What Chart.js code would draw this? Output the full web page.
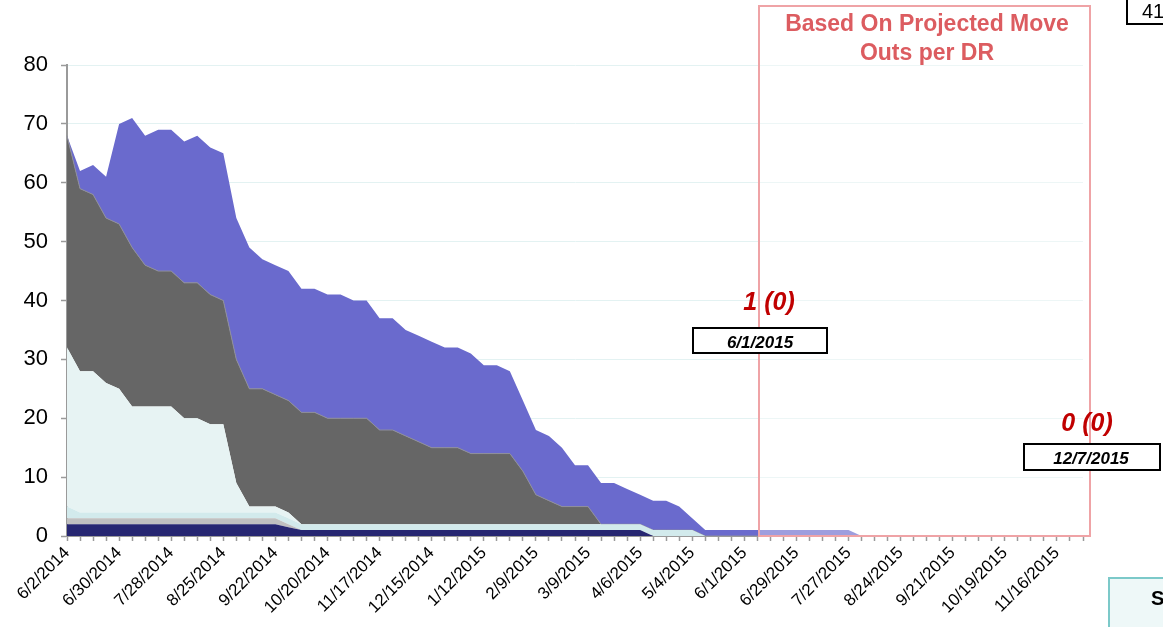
<!DOCTYPE html>
<html>
<head>
<meta charset="utf-8">
<script src="https://cdn.jsdelivr.net/npm/chart.js@4/dist/chart.umd.min.js"></script>
<style>
  html, body { margin: 0; padding: 0; background: #ffffff; }
  #wrap { width: 1163px; height: 627px; position: relative; }
</style>
</head>
<body>
<div id="wrap"><canvas id="c" width="1163" height="627"></canvas></div>
<script>
// Weekly categories (6/2/2014 .. 11/30/2015), 79 weeks
const weekLabels = [
  "6/2/2014","6/9/2014","6/16/2014","6/23/2014","6/30/2014","7/7/2014","7/14/2014","7/21/2014","7/28/2014","8/4/2014",
  "8/11/2014","8/18/2014","8/25/2014","9/1/2014","9/8/2014","9/15/2014","9/22/2014","9/29/2014","10/6/2014","10/13/2014",
  "10/20/2014","10/27/2014","11/3/2014","11/10/2014","11/17/2014","11/24/2014","12/1/2014","12/8/2014","12/15/2014","12/22/2014",
  "12/29/2014","1/5/2015","1/12/2015","1/19/2015","1/26/2015","2/2/2015","2/9/2015","2/16/2015","2/23/2015","3/2/2015",
  "3/9/2015","3/16/2015","3/23/2015","3/30/2015","4/6/2015","4/13/2015","4/20/2015","4/27/2015","5/4/2015","5/11/2015",
  "5/18/2015","5/25/2015","6/1/2015","6/8/2015","6/15/2015","6/22/2015","6/29/2015","7/6/2015","7/13/2015","7/20/2015",
  "7/27/2015","8/3/2015","8/10/2015","8/17/2015","8/24/2015","8/31/2015","9/7/2015","9/14/2015","9/21/2015","9/28/2015",
  "10/5/2015","10/12/2015","10/19/2015","10/26/2015","11/2/2015","11/9/2015","11/16/2015","11/23/2015","11/30/2015"
];

// Stacked series, bottom to top (rows of 10 weeks)
const seriesNavy = [
  2,2,2,2,2,2,2,2,2,2,
  2,2,2,2,2,2,2,1.5,1,1,
  1,1,1,1,1,1,1,1,1,1,
  1,1,1,1,1,1,1,1,1,1,
  1,1,1,1,1,0,0,0,0,0,
  0,0,0,0,0,0,0,0,0,0,
  0,0,0,0,0,0,0,0,0,0,
  0,0,0,0,0,0,0,0,0
];
const seriesGray = [
  1,1,1,1,1,1,1,1,1,1,
  1,1,1,1,1,1,1,0.5,0,0,
  0,0,0,0,0,0,0,0,0,0,
  0,0,0,0,0,0,0,0,0,0,
  0,0,0,0,0,0,0,0,0,0,
  0,0,0,0,0,0,0,0,0,0,
  0,0,0,0,0,0,0,0,0,0,
  0,0,0,0,0,0,0,0,0
];
const seriesCyan = [
  2,1,1,1,1,1,1,1,1,1,
  1,1,1,1,1,1,1,1,1,1,
  1,1,1,1,1,1,1,1,1,1,
  1,1,1,1,1,1,1,1,1,1,
  1,1,1,1,1,1,1,1,1,0,
  0,0,0,0,0,0,0,0,0,0,
  0,0,0,0,0,0,0,0,0,0,
  0,0,0,0,0,0,0,0,0
];
const seriesPale = [
  27,24,24,22,21,18,18,18,18,16,
  16,15,15,5,1,1,1,1,0,0,
  0,0,0,0,0,0,0,0,0,0,
  0,0,0,0,0,0,0,0,0,0,
  0,0,0,0,0,0,0,0,0,0,
  0,0,0,0,0,0,0,0,0,0,
  0,0,0,0,0,0,0,0,0,0,
  0,0,0,0,0,0,0,0,0
];
const seriesDark = [
  36,31,30,28,28,27,24,23,23,23,
  23,22,21,21,20,20,19,19,19,19,
  18,18,18,18,16,16,15,14,13,13,
  13,12,12,12,12,9,5,4,3,3,
  3,0,0,0,0,0,0,0,0,0,
  0,0,0,0,0,0,0,0,0,0,
  0,0,0,0,0,0,0,0,0,0,
  0,0,0,0,0,0,0,0,0
];
const seriesPurple = [
  0,3,5,7,17,22,22,24,24,24,
  25,25,25,24,24,22,22,22,21,21,
  21,21,20,20,19,19,18,18,18,17,
  17,17,15,15,14,12,11,11,10,7,
  7,7,7,6,5,5,5,4,2,1,
  1,1,1,1,1,1,1,1,1,1,
  1,0,0,0,0,0,0,0,0,0,
  0,0,0,0,0,0,0,0,0
];
const yTicks = [0,10,20,30,40,50,60,70,80];

const FONT = "'Liberation Sans', Arial, sans-serif";

function ds(label, data, color, border, fill) {
  return {
    label, data, backgroundColor: color, borderColor: border, borderWidth: border ? 1 : 0,
    fill, pointRadius: 0, pointHoverRadius: 0, tension: 0
  };
}

const annotations = {
  id: 'annotations',
  afterDatasetsDraw(chart) {
    const c = chart.ctx;
    c.save();
    c.fillStyle = 'rgba(255,255,255,0.35)';
    c.fillRect(759, 6, 331, 530);
    c.strokeStyle = '#efa3a6';
    c.lineWidth = 2;
    c.strokeRect(759, 6, 331, 530);
    c.restore();
  },
  afterDraw(chart) {
    const c = chart.ctx;
    c.save();
    c.textAlign = 'center';
    c.textBaseline = 'alphabetic';
    c.fillStyle = '#dc5c60';
    c.font = "bold 23px " + FONT;
    c.fillText('Based On Projected Move', 927, 31);
    c.fillText('Outs per DR', 927, 60);

    c.fillStyle = '#c00000';
    c.font = "italic bold 25px " + FONT;
    c.fillText('1 (0)', 769, 310);
    c.fillText('0 (0)', 1087, 431);

    c.fillStyle = '#ffffff';
    c.strokeStyle = '#000000';
    c.lineWidth = 2;
    c.fillRect(693, 328, 134, 25);
    c.strokeRect(693, 328, 134, 25);
    c.fillRect(1024, 444, 136, 26);
    c.strokeRect(1024, 444, 136, 26);
    c.fillStyle = '#000000';
    c.font = "italic bold 17px " + FONT;
    c.fillText('6/1/2015', 760, 348);
    c.fillText('12/7/2015', 1091, 464);

    c.strokeStyle = '#000000';
    c.lineWidth = 2;
    c.fillStyle = '#ffffff';
    c.fillRect(1127, -4, 60, 28);
    c.strokeRect(1127, -4, 60, 28);
    c.fillStyle = '#000000';
    c.textAlign = 'left';
    c.font = "20px " + FONT;
    c.fillText('41', 1142, 18);

    c.fillStyle = '#eef8f8';
    c.strokeStyle = '#7cc9c9';
    c.lineWidth = 2;
    c.fillRect(1109, 578, 80, 60);
    c.strokeRect(1109, 578, 80, 60);
    c.fillStyle = '#000000';
    c.font = "bold 20px " + FONT;
    c.fillText('S', 1151, 605);
    c.restore();
  }
};

new Chart(document.getElementById('c'), {
  type: 'line',
  data: {
    labels: weekLabels,
    datasets: [
      ds('A', seriesNavy, '#272772', null, 'origin'),
      ds('B', seriesGray, '#c0c0c0', null, '-1'),
      ds('C', seriesCyan, '#d2eaec', null, '-1'),
      ds('D', seriesPale, '#e7f3f3', null, '-1'),
      ds('E', seriesDark, '#666666', '#8e8e9c', '-1'),
      ds('F', seriesPurple, '#6a6acd', null, '-1')
    ]
  },
  options: {
    responsive: false,
    animation: false,
    events: [],
    layout: { padding: { top: 65, right: 80, left: 0, bottom: 0 } },
    plugins: { legend: { display: false }, tooltip: { enabled: false } },
    elements: { line: { borderJoinStyle: 'miter' } },
    scales: {
      x: {
        type: 'category',
        offset: false,
        afterFit(s) { s.height = 91; },
        grid: { display: true, drawOnChartArea: false, drawTicks: true, tickLength: 5, tickColor: '#9a9a9a', tickWidth: 1.5 },
        border: { display: true, color: '#9a9a9a', width: 2 },
        ticks: {
          autoSkip: false, maxRotation: 45, minRotation: 45, padding: 2,
          color: '#000000', font: { family: FONT, size: 17 },
          callback(v, i) { return i % 4 === 0 ? weekLabels[i] : ''; }
        }
      },
      y: {
        stacked: true,
        min: 0, max: 80,
        afterFit(s) { s.width = 67; },
        afterBuildTicks(s) { s.ticks = yTicks.map(v => ({ value: v })); },
        grid: { color: '#e3f2f2', lineWidth: 1, drawTicks: true, tickLength: 6, tickColor: '#9a9a9a', tickWidth: 1.5 },
        border: { display: true, color: '#9a9a9a', width: 2 },
        ticks: { padding: 13, color: '#000000', font: { family: FONT, size: 22 } }
      }
    }
  },
  plugins: [annotations]
});
</script>
</body>
</html>
